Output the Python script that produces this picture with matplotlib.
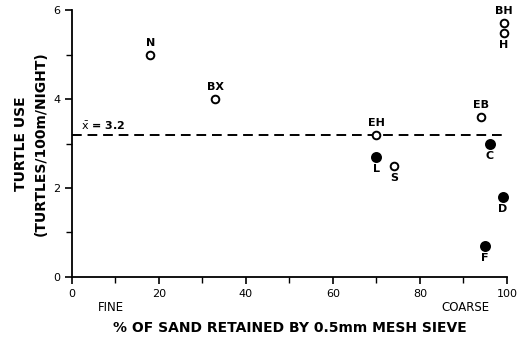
import matplotlib.pyplot as plt

# sites: % sand retained vs turtle use
names = ['N', 'BX', 'EH', 'L', 'S', 'EB', 'C', 'D', 'F', 'BH', 'H']
sand = [18, 33, 70, 70, 74, 94, 96, 99, 95, 99.3, 99.3]
use = [5.0, 4.0, 3.2, 2.7, 2.5, 3.6, 3.0, 1.8, 0.7, 5.72, 5.48]
filled = [False, False, False, True, False, False, True, True, True, False, False]
label_pos = ['above', 'above', 'above', 'below', 'below', 'above',
             'below', 'below', 'below', 'above', 'below']
mean_use = 3.2

plt.rcParams['font.family'] = 'DejaVu Sans'
fig = plt.figure(figsize=(5.21, 3.39), dpi=100)
ax = fig.add_axes([0.138, 0.183, 0.835, 0.787])

for x, y, f in zip(sand, use, filled):
    ax.plot(x, y, 'o', ms=6.5 if f else 5.5, mfc='black' if f else 'white',
            mec='black', mew=1.4, clip_on=False, zorder=3)

for n, x, y, p in zip(names, sand, use, label_pos):
    dy = 5 if p == 'above' else -5
    ax.annotate(n, (x, y), xytext=(0, dy), textcoords='offset points',
                ha='center', va='bottom' if p == 'above' else 'top',
                fontsize=8, fontweight='bold')

ax.plot([0, 100], [mean_use, mean_use], color='black', lw=1.4,
        dashes=(5, 3))
ax.text(2, mean_use + 0.05, r'$\bar{\mathrm{x}}$ = 3.2', fontsize=8,
        fontweight='bold', va='bottom')

ax.set_xlim(0, 100)
ax.set_ylim(0, 6)
ax.set_xticks([0, 20, 40, 60, 80, 100])
ax.set_xticks([10, 30, 50, 70, 90], minor=True)
ax.set_yticks([0, 2, 4, 6])
ax.set_yticks([1, 3, 5], minor=True)
ax.tick_params(labelsize=8, width=1.2, length=5)
ax.tick_params(which='minor', width=1.0, length=4)
for s in ['top', 'right']:
    ax.spines[s].set_visible(False)
for s in ['left', 'bottom']:
    ax.spines[s].set_linewidth(1.3)

ax.set_xlabel('% OF SAND RETAINED BY 0.5mm MESH SIEVE', fontsize=10,
              fontweight='bold', labelpad=16)
ax.set_ylabel('TURTLE USE\n(TURTLES/100m/NIGHT)', fontsize=10,
              fontweight='bold', labelpad=4, linespacing=1.5)
ax.text(0.06, -0.116, 'FINE', transform=ax.transAxes, fontsize=8.5,
        va='center')
ax.text(0.85, -0.116, 'COARSE', transform=ax.transAxes, fontsize=8.5,
        va='center')

plt.savefig('out.png', dpi=100)
